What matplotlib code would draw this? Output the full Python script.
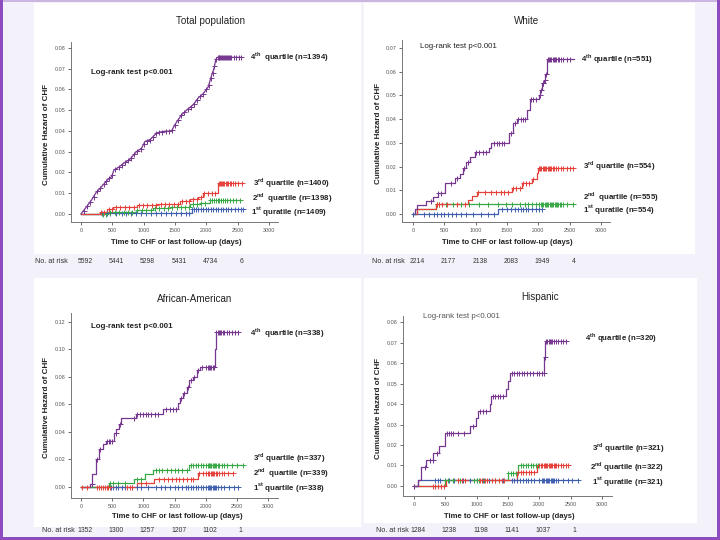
import numpy as np
import matplotlib
matplotlib.use('Agg')
import matplotlib.pyplot as plt
from matplotlib.patches import Rectangle
from matplotlib.transforms import blended_transform_factory, ScaledTranslation

plt.rcParams['font.family'] = ['Liberation Sans', 'DejaVu Sans']
plt.rcParams['mathtext.fontset'] = 'custom'
plt.rcParams['mathtext.rm'] = 'Liberation Sans'
plt.rcParams['mathtext.bf'] = 'Liberation Sans:bold'

# colours of the four quartile curves
C_Q1 = '#3f5fae'
C_Q2 = '#37a845'
C_Q3 = '#e5403a'
C_Q4 = '#76368f'

risk_days = [0, 500, 1000, 1500, 2000, 2500]

# ---------------- Total population ----------------
tot_q1_t = [0, 300, 1766, 2590]
tot_q1_h = [0, 0.0006, 0.0022, 0.0022]
tot_q1_c = [330, 410, 470, 560, 650, 720, 790, 880, 960, 1030, 1120, 1190, 1280, 1350, 1440, 1510, 1600,
            1670, 1720, 1770, 1800, 1830, 1870, 1910, 1950, 1990, 2030, 2070, 2110, 2150, 2190, 2230,
            2270, 2310, 2350, 2400, 2450, 2500, 2550, 2590]
tot_q2_t = [0, 420, 622, 890, 1154, 1420, 1740, 1900, 2058, 2537]
tot_q2_h = [0, 0.0008, 0.0011, 0.0019, 0.0027, 0.0035, 0.0047, 0.0051, 0.0067, 0.0067]
tot_q2_c = [350, 400, 470, 540, 600, 680, 750, 820, 900, 970, 1040, 1110, 1180, 1250, 1320, 1390, 1460,
            1530, 1600, 1660, 1720, 1790, 1850, 1920, 1980, 2060, 2090, 2120, 2150, 2180, 2210, 2240,
            2270, 2300, 2330, 2370, 2420, 2470, 2537]
tot_q3_t = [0, 300, 410, 515, 890, 1207, 1580, 1740, 1870, 1952, 2188, 2564]
tot_q3_h = [0, 0.0011, 0.0022, 0.0032, 0.0043, 0.005, 0.006, 0.007, 0.0083, 0.0100, 0.0150, 0.0150]
tot_q3_c = [320, 370, 440, 500, 560, 630, 700, 770, 840, 920, 990, 1060, 1130, 1200, 1270, 1340, 1410,
            1480, 1550, 1610, 1670, 1730, 1790, 1850, 1910, 1970, 2030, 2090, 2140, 2200, 2215, 2235,
            2255, 2270, 2290, 2310, 2330, 2350, 2370, 2390, 2420, 2460, 2510, 2564]
tot_q4_t = [0, 90, 170, 240, 330, 420, 490, 525, 595, 685, 780, 887, 967, 1020, 1110, 1205, 1312, 1445,
            1498, 1604, 1710, 1790, 1870, 1950, 2030, 2082, 2124, 2151, 2172, 2560]
tot_q4_h = [0, 0.0035, 0.0068, 0.0103, 0.0132, 0.0164, 0.018, 0.0212, 0.0224, 0.0245, 0.0264, 0.0301,
            0.0317, 0.0349, 0.036, 0.039, 0.0398, 0.040, 0.043, 0.0478, 0.0507, 0.0526, 0.0559, 0.058,
            0.0612, 0.0666, 0.0703, 0.0744, 0.0755, 0.0755]
tot_q4_c = [40, 100, 150, 200, 260, 310, 360, 400, 450, 500, 550, 600, 650, 700, 750, 800, 850, 900, 950,
            1000, 1050, 1100, 1150, 1200, 1250, 1300, 1350, 1400, 1450, 1500, 1550, 1600, 1650, 1700,
            1750, 1800, 1850, 1900, 1950, 2000, 2040, 2070, 2100, 2130, 2160, 2180, 2195, 2210, 2225,
            2240, 2255, 2270, 2285, 2300, 2315, 2330, 2345, 2360, 2380, 2400, 2440, 2480, 2520, 2560]
tot_risk = ['5592', '5441', '5298', '5431', '4734', '6']

# ---------------- White ----------------
wh_q1_t = [0, 1360, 2060]
wh_q1_h = [0, 0.0021, 0.0021]
wh_q1_c = [0, 170, 250, 330, 380, 440, 500, 560, 620, 680, 760, 850, 960, 1080, 1200, 1300, 1420, 1500,
           1560, 1620, 1680, 1720, 1760, 1800, 1840, 1900, 1960, 2010, 2060]
wh_q2_t = [0, 64, 360, 2560]
wh_q2_h = [0, 0.0019, 0.0040, 0.0040]
wh_q2_c = [380, 420, 520, 640, 760, 900, 1050, 1200, 1350, 1480, 1580, 1700, 1780, 1840, 1900, 1960, 2010,
           2040, 2060, 2080, 2100, 2120, 2140, 2160, 2180, 2200, 2220, 2240, 2260, 2280, 2300, 2320,
           2340, 2360, 2400, 2460, 2560]
wh_q3_t = [0, 64, 360, 877, 940, 1020, 1580, 1738, 1898, 1978, 2000, 2552]
wh_q3_h = [0, 0.0019, 0.0040, 0.0059, 0.0076, 0.0093, 0.011, 0.013, 0.0148, 0.0173, 0.0194, 0.0194]
wh_q3_c = [380, 420, 470, 540, 700, 830, 1030, 1150, 1250, 1330, 1400, 1460, 1520, 1600, 1650, 1700, 1760,
           1800, 1850, 1920, 2010, 2030, 2050, 2070, 2090, 2110, 2130, 2150, 2170, 2190, 2210, 2230,
           2250, 2280, 2320, 2360, 2400, 2450, 2500, 2552]
wh_q4_t = [0, 27, 64, 213, 320, 394, 516, 675, 755, 798, 851, 915, 995, 1207, 1245, 1527, 1596, 1660,
           1820, 1870, 2005, 2032, 2059, 2090, 2112, 2138, 2564]
wh_q4_h = [0, 0.002, 0.0038, 0.0056, 0.0073, 0.009, 0.0132, 0.015, 0.0169, 0.0193, 0.0221, 0.0242,
           0.0263, 0.0277, 0.030, 0.0341, 0.0383, 0.0401, 0.044, 0.0486, 0.0503, 0.0524, 0.0552,
           0.0565, 0.0592, 0.0654, 0.0654]
wh_q4_c = [280, 400, 450, 600, 700, 820, 880, 1000, 1060, 1120, 1160, 1300, 1340, 1380, 1420, 1460, 1560,
           1620, 1680, 1720, 1760, 1790, 1880, 1920, 1960, 2020, 2045, 2070, 2080, 2100, 2125, 2150,
           2170, 2190, 2210, 2230, 2250, 2270, 2290, 2310, 2330, 2360, 2400, 2450, 2500]
wh_risk = ['2214', '2177', '2138', '2083', '1949', '4']

# ---------------- African-American ----------------
aa_q1_t = [0, 2520]
aa_q1_h = [0, 0]
aa_q1_c = [480, 520, 560, 600, 650, 700, 820, 900, 960, 1080, 1200, 1280, 1350, 1420, 1500, 1560, 1620,
           1680, 1720, 1760, 1800, 1840, 1880, 1920, 1960, 2000, 2030, 2050, 2070, 2090, 2110, 2130,
           2150, 2170, 2200, 2250, 2300, 2380, 2450, 2520]
aa_q2_t = [0, 895, 1172, 1870, 2440]
aa_q2_h = [0, 0.003, 0.006, 0.0102, 0.0102]
aa_q2_c = [20, 100, 260, 290, 320, 350, 380, 410, 440, 470, 740, 780, 820, 960, 1050, 1250, 1330, 1400,
           1460, 1520, 1580, 1640, 1700, 1760, 1800, 1900, 1960, 2010, 2040, 2060, 2080, 2100, 2120,
           2140, 2160, 2180, 2220, 2260, 2300, 2360, 2440]
aa_q3_t = [0, 442, 852, 1028, 1161, 1731, 2600]
aa_q3_h = [0, 0.003, 0.006, 0.0092, 0.0127, 0.0163, 0.0163]
aa_q3_c = [470, 520, 600, 700, 900, 960, 1200, 1250, 1300, 1380, 1440, 1500, 1560, 1620, 1700, 1760,
           1800, 1840, 1880, 1920, 1960, 2000, 2030, 2050, 2070, 2090, 2110, 2130, 2150, 2170, 2190,
           2220, 2260, 2300, 2350, 2420, 2500, 2600]
aa_q4_t = [0, 139, 176, 240, 282, 352, 405, 522, 565, 602, 639, 884, 1321, 1550, 1588, 1630, 1694, 1737,
           1800, 1854, 1907, 2147, 2163, 2520]
aa_q4_h = [0, 0.0024, 0.0092, 0.0207, 0.0275, 0.031, 0.0336, 0.039, 0.042, 0.0458, 0.050, 0.053,
           0.0565, 0.061, 0.0645, 0.068, 0.073, 0.078, 0.080, 0.085, 0.0876, 0.100, 0.1127, 0.1127]
aa_q4_c = [170, 250, 300, 420, 450, 470, 490, 560, 620, 850, 900, 950, 1000, 1040, 1080, 1130, 1180, 1240,
           1360, 1420, 1480, 1530, 1600, 1650, 1720, 1760, 1820, 1880, 1940, 2010, 2030, 2050, 2070,
           2090, 2110, 2130, 2170, 2190, 2210, 2230, 2250, 2270, 2300, 2340, 2380, 2420, 2470, 2520]
aa_risk = ['1352', '1300', '1257', '1207', '1102', '1']

# ---------------- Hispanic ----------------
hi_q1_t = [0, 64, 2613]
hi_q1_h = [0, 0.003, 0.003]
hi_q1_c = [330, 380, 420, 560, 640, 700, 780, 900, 1000, 1100, 1200, 1300, 1420, 1560, 1600, 1640, 1690,
           1740, 1780, 1820, 1870, 1920, 2000, 2040, 2060, 2080, 2100, 2120, 2140, 2160, 2180, 2200,
           2220, 2240, 2260, 2300, 2380, 2450, 2520, 2613]
hi_q2_t = [0, 505, 1641, 1960, 2453]
hi_q2_h = [0, 0.003, 0.0068, 0.0103, 0.0103]
hi_q2_c = [0, 300, 340, 380, 430, 480, 700, 760, 820, 1050, 1090, 1130, 1170, 1250, 1300, 1350, 1400,
           1440, 1660, 1700, 1740, 1790, 1830, 1870, 1910, 2000, 2030, 2050, 2070, 2090, 2110, 2130,
           2150, 2170, 2190, 2210, 2230, 2250, 2270, 2300, 2340, 2380, 2420, 2453]
hi_q3_t = [0, 489, 1498, 1665, 1985]
hi_q3_h = [0, 0.003, 0.0065, 0.0100, 0.0100]
hi_q3_c = [500, 540, 620, 700, 740, 960, 1000, 1040, 1120, 1500, 1540, 1580, 1620, 1700, 1740, 1780,
           1820, 1860, 1900, 1950, 1985]
hi_q4_t = [0, 64, 117, 196, 303, 393, 489, 887, 993, 1020, 1205, 1232, 1471, 1498, 1524, 2082, 2098, 2427]
hi_q4_h = [0, 0.003, 0.0094, 0.0127, 0.0162, 0.0195, 0.026, 0.0295, 0.0330, 0.0367, 0.040, 0.0438,
           0.0475, 0.0511, 0.0552, 0.063, 0.0706, 0.0706]
hi_q4_c = [0, 170, 250, 300, 360, 530, 560, 590, 620, 700, 800, 940, 1060, 1100, 1150, 1260, 1300, 1340,
           1380, 1420, 1560, 1600, 1640, 1680, 1720, 1760, 1800, 1850, 1900, 1960, 2000, 2040, 2070,
           2090, 2110, 2130, 2150, 2170, 2190, 2210, 2230, 2260, 2300, 2340, 2380, 2427]
hi_risk = ['1284', '1238', '1198', '1141', '1037', '1']

W, H = 720, 540
fig = plt.figure(figsize=(7.2, 5.4), dpi=100, facecolor='#f3f2fb')


def px_rect(x0, y0, x1, y1, color, z=-5):
    fig.patches.append(Rectangle((x0 / W, 1 - y1 / H), (x1 - x0) / W, (y1 - y0) / H,
                                 transform=fig.transFigure, facecolor=color, edgecolor='none', zorder=z))


def ftext(x, y, s, **kw):
    kw.setdefault('va', 'center')
    fig.text(x / W, 1 - y / H, s, **kw)


def step_val(t, h, x):
    idx = np.searchsorted(t, x, side='right') - 1
    return np.asarray(h)[np.clip(idx, 0, len(h) - 1)]


def draw_curve(ax, t, h, cens, color, steps=True):
    ax.plot(t, h, color=color, lw=0.9, drawstyle='steps-post' if steps else 'default', zorder=3)
    cy = step_val(t, h, cens) if steps else np.interp(cens, t, h)
    ax.plot(cens, cy, ls='none', marker='+', ms=3.6, mew=0.7, color=color, zorder=4)


def make_ax(l, r, t, b, xlim, ylim, yticks):
    ax = fig.add_axes([l / W, 1 - b / H, (r - l) / W, (b - t) / H])
    ax.set_facecolor('none')
    ax.set_xlim(xlim)
    ax.set_ylim(ylim)
    ax.set_xticks([0, 500, 1000, 1500, 2000, 2500, 3000])
    ax.set_yticks(yticks)
    ax.set_yticklabels(['%.2f' % v for v in yticks])
    for s in ['top', 'right']:
        ax.spines[s].set_visible(False)
    for s in ['left', 'bottom']:
        ax.spines[s].set_color('#777777')
        ax.spines[s].set_linewidth(0.7)
    ax.tick_params(labelsize=3.9, colors='#555555', length=2.5, width=0.6, pad=1.5)
    return ax


# background: white panels and slide border
px_rect(34, 3, 361, 254, 'white')
px_rect(364, 3, 695, 254, 'white')
px_rect(34, 278, 361, 527, 'white')
px_rect(364, 278, 697, 523, 'white')
px_rect(0, 0, 720, 1.5, '#cbb6e2', z=5)
px_rect(0, 0, 3, 540, '#8d4cbd', z=6)
px_rect(717, 0, 720, 540, '#8d4cbd', z=6)
px_rect(0, 537, 720, 540, '#8d4cbd', z=6)

panels = [
    dict(box=(71, 278, 42, 222), xlim=(-160, 3144), ylim=(-0.0039, 0.0829),
         yticks=[0, 0.01, 0.02, 0.03, 0.04, 0.05, 0.06, 0.07, 0.08],
         curves=[(tot_q1_t, tot_q1_h, tot_q1_c, C_Q1, True), (tot_q2_t, tot_q2_h, tot_q2_c, C_Q2, True),
                 (tot_q3_t, tot_q3_h, tot_q3_c, C_Q3, True), (tot_q4_t, tot_q4_h, tot_q4_c, C_Q4, False)],
         title='Total population', title_xy=(210, 21), ylab_x=47, xlab_xy=(176, 243),
         logrank=(91, 72, 'bold'),
         labels=[(250, 57, r'4$^{\mathbf{th}}$  quartile (n=1394)'),
                 (253, 183, r'3$^{\mathbf{rd}}$ quartile (n=1400)'),
                 (252, 198, r'2$^{\mathbf{nd}}$  quartile (n=1398)'),
                 (251, 212, r'1$^{\mathbf{st}}$ quratile (n=1409)')],
         risk=tot_risk, risk_y=261, risk_x=35),
    dict(box=(402, 610, 40, 222), xlim=(-176, 3144), ylim=(-0.0034, 0.0734),
         yticks=[0, 0.01, 0.02, 0.03, 0.04, 0.05, 0.06, 0.07],
         curves=[(wh_q1_t, wh_q1_h, wh_q1_c, C_Q1, True), (wh_q2_t, wh_q2_h, wh_q2_c, C_Q2, True),
                 (wh_q3_t, wh_q3_h, wh_q3_c, C_Q3, True), (wh_q4_t, wh_q4_h, wh_q4_c, C_Q4, True)],
         title='White', title_xy=(527, 21), ylab_x=378, xlab_xy=(507, 243),
         logrank=(420, 47, 'normal'),
         labels=[(581, 59, r'4$^{\mathbf{th}}$ quartile (n=551)'),
                 (583, 166, r'3$^{\mathbf{rd}}$ quartile (n=554)'),
                 (583, 197, r'2$^{\mathbf{nd}}$  quartile (n=555)'),
                 (583, 209, r'1$^{\mathbf{st}}$ quratile (n=554)')],
         risk=wh_risk, risk_y=261, risk_x=372),
    dict(box=(71, 278, 313, 498), xlim=(-160, 3160), ylim=(-0.008, 0.1265),
         yticks=[0, 0.02, 0.04, 0.06, 0.08, 0.10, 0.12],
         curves=[(aa_q1_t, aa_q1_h, aa_q1_c, C_Q1, True), (aa_q2_t, aa_q2_h, aa_q2_c, C_Q3, True),
                 (aa_q3_t, aa_q3_h, aa_q3_c, C_Q2, True), (aa_q4_t, aa_q4_h, aa_q4_c, C_Q4, True)],
         title='African-American', title_xy=(195, 299), ylab_x=47, xlab_xy=(177, 516),
         logrank=(91, 327, 'bold'),
         labels=[(250, 333, r'4$^{\mathbf{th}}$  quartile (n=338)'),
                 (253, 458, r'3$^{\mathbf{rd}}$ quartile (n=337)'),
                 (253, 473, r'2$^{\mathbf{nd}}$  quartile (n=339)'),
                 (253, 488, r'1$^{\mathbf{st}}$ quartile (n=338)')],
         risk=aa_risk, risk_y=531, risk_x=42),
    dict(box=(403, 612, 316, 496), xlim=(-176, 3160), ylim=(-0.0049, 0.083),
         yticks=[0, 0.01, 0.02, 0.03, 0.04, 0.05, 0.06, 0.07, 0.08],
         curves=[(hi_q1_t, hi_q1_h, hi_q1_c, C_Q1, True), (hi_q3_t, hi_q3_h, hi_q3_c, C_Q2, True),
                 (hi_q2_t, hi_q2_h, hi_q2_c, C_Q3, True), (hi_q4_t, hi_q4_h, hi_q4_c, C_Q4, True)],
         title='Hispanic', title_xy=(540, 297), ylab_x=378, xlab_xy=(509, 516),
         logrank=(423, 317, 'light'),
         labels=[(585, 338, r'4$^{\mathbf{th}}$ quartile (n=320)'),
                 (592, 448, r'3$^{\mathbf{rd}}$ quartile (n=321)'),
                 (590, 467, r'2$^{\mathbf{nd}}$ quartile (n=322)'),
                 (592, 481, r'1$^{\mathbf{st}}$ quratile (n=321)')],
         risk=hi_risk, risk_y=531, risk_x=376),
]

for p in panels:
    l, r, t, b = p['box']
    ax = make_ax(l, r, t, b, p['xlim'], p['ylim'], p['yticks'])
    for ct, ch, cc, col, st in p['curves']:
        draw_curve(ax, ct, ch, cc, col, st)
    ftext(*p['title_xy'], p['title'], ha='center', fontsize=7.1, color='#222222')
    ftext(p['ylab_x'], (t + b) / 2 + 2, 'Cumulative Hazard of CHF', ha='center', rotation=90,
          fontsize=5.8, fontweight='bold', color='#222222')
    ftext(*p['xlab_xy'], 'Time to CHF or last follow-up (days)', ha='center', fontsize=5.5,
          fontweight='bold', color='#222222')
    lx, ly, lw = p['logrank']
    ftext(lx, ly, 'Log-rank test p<0.001', ha='left', fontsize=5.7,
          fontweight='bold' if lw == 'bold' else 'normal',
          color='#555555' if lw == 'light' else '#222222')
    for x, y, s in p['labels']:
        ftext(x, y, s, ha='left', fontsize=5.7, fontweight='bold', color='#222222')
    # numbers at risk under each panel
    ftext(p['risk_x'], p['risk_y'], 'No. at risk', ha='left', fontsize=5.2, color='#333333')
    trans = blended_transform_factory(ax.transData, fig.transFigure) + \
        ScaledTranslation(4 / 100, 0, fig.dpi_scale_trans)
    for d, n in zip(risk_days, p['risk']):
        ax.text(d, 1 - p['risk_y'] / H, n, transform=trans, ha='center', va='center',
                fontsize=4.9, color='#333333', clip_on=False)

fig.savefig('out.png', dpi=100, facecolor=fig.get_facecolor())
